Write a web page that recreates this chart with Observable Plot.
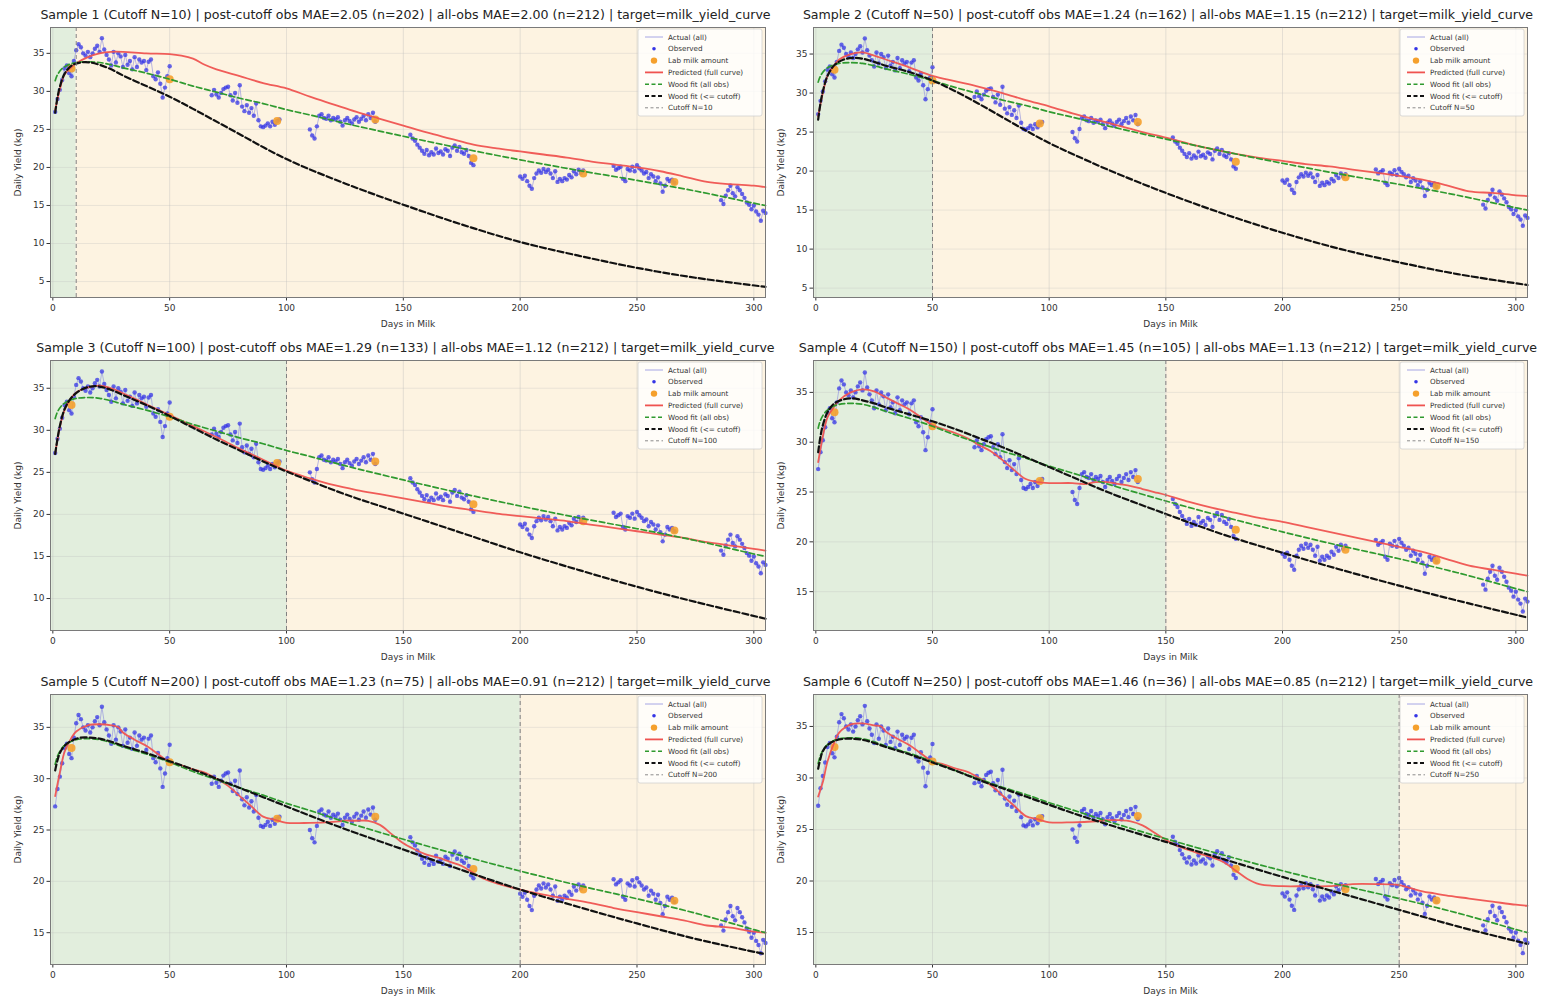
<!DOCTYPE html>
<html><head><meta charset="utf-8">
<script src="https://cdn.jsdelivr.net/npm/d3@7"></script>
<script src="https://cdn.jsdelivr.net/npm/@observablehq/plot@0.6"></script>
<style>
body{margin:0;background:#fff;font-family:"DejaVu Sans",sans-serif;}
#root{position:relative;width:1545px;height:1000px;overflow:hidden;background:#fff;}
.panel{position:absolute;height:333px;}
.title{position:absolute;top:5px;height:20px;width:800px;font-size:12.6px;line-height:20px;text-align:center;white-space:nowrap;color:#222;}
.panel svg{position:absolute;top:26px;left:0;overflow:visible;}
</style></head><body><div id="root"></div><script>
// ---- titles ----
const sampleIds = [1, 2, 3, 4, 5, 6];
const cutoffs = [10, 50, 100, 150, 200, 250];
const postMAE = ["2.05", "1.24", "1.29", "1.45", "1.23", "1.46"];
const postN = [202, 162, 133, 105, 75, 36];
const allMAE = ["2.00", "1.15", "1.12", "1.13", "0.91", "0.85"];
const allN = [212, 212, 212, 212, 212, 212];

// ---- axes ----
const xDomain = [-1, 305];
const xTicks = [0, 50, 100, 150, 200, 250, 300];
const yDomains = [[2.9, 38.4], [3.8, 38.4], [6.2, 38.3], [11.1, 38.2], [11.9, 38.2], [11.9, 38.1]];
const yTickSets = [[5,10,15,20,25,30,35],[5,10,15,20,25,30,35],[10,15,20,25,30,35],[15,20,25,30,35],[15,20,25,30,35],[15,20,25,30,35]];

// ---- observed daily yields (day, kg), clusters ----
const obsA = [[1,27.3],[2,29.0],[3,30.2],[4,31.5],[5,33.0],[6,33.4],[7,32.4],[8,32.0],[9,34.0],[10,35.4],[11,36.2],[12,35.8],[13,35.0],[14,34.7],[15,35.2],[16,34.5],[17,35.0],[18,35.6],[19,36.0],[20,35.2],[21,37.0],[22,35.5],[23,34.8],[24,34.2],[25,33.4],[26,35.2],[27,33.8],[28,35.0],[29,34.6],[30,33.2],[31,34.8],[32,33.5],[33,34.0],[34,32.9],[35,34.5],[36,33.2],[37,34.2],[38,33.8],[39,34.0],[40,32.8],[41,33.9],[42,34.2],[43,32.0],[44,31.6],[45,32.5],[46,31.0],[47,29.2],[48,30.5],[49,32.0],[50,33.3]];
const obsB = [[68,29.5],[69,30.2],[70,29.6],[71,29.2],[72,29.8],[73,30.3],[74,30.5],[75,30.6],[76,29.5],[77,28.8],[78,29.8],[79,28.5],[80,30.8],[81,28.0],[82,27.4],[83,28.2],[84,27.2],[85,27.8],[86,26.8],[87,28.4],[88,26.2],[89,25.4],[90,25.3],[91,25.5],[92,25.8],[93,25.4],[94,26.0],[95,25.6],[96,26.1],[97,26.3]];
const obsC = [[110,25.0],[111,24.2],[112,23.8],[113,25.4],[114,26.8],[115,27.0],[116,26.5],[117,26.4],[118,26.8],[119,26.2],[120,26.5],[121,26.3],[122,26.6],[123,26.0],[124,25.5],[125,26.2],[126,26.5],[127,26.1],[128,25.8],[129,26.3],[130,26.6],[131,26.0],[132,26.4],[133,26.8],[134,26.2],[135,27.0],[136,26.5],[137,27.2],[138,26.0]];
const obsD = [[153,24.3],[154,23.8],[155,23.5],[156,23.0],[157,22.6],[158,22.2],[159,21.8],[160,22.3],[161,21.6],[162,22.0],[163,21.7],[164,22.5],[165,21.9],[166,22.1],[167,21.7],[168,22.4],[169,22.2],[170,21.5],[171,22.6],[172,22.9],[173,22.2],[174,22.7],[175,22.0],[176,21.8],[177,22.3],[178,21.5],[179,20.6],[180,20.3]];
const obsE = [[200,18.8],[201,18.5],[202,18.9],[203,18.2],[204,17.6],[205,17.2],[206,18.6],[207,19.2],[208,19.6],[209,19.3],[210,19.8],[211,19.4],[212,19.7],[213,19.2],[214,18.6],[215,19.5],[216,18.1],[217,18.5],[218,18.2],[219,18.6],[220,18.4],[221,19.0],[222,18.7],[223,19.5],[224,19.1],[225,19.7],[226,19.3],[227,19.6]];
const obsF = [[240,20.2],[241,19.7],[242,19.9],[243,20.1],[244,18.5],[245,18.2],[246,19.8],[247,19.6],[248,20.1],[249,19.5],[250,20.3],[251,19.9],[252,19.6],[253,19.2],[254,19.4],[255,18.6],[256,19.1],[257,18.8],[258,18.2],[259,18.7],[260,17.9],[261,16.8],[262,17.6],[263,18.5],[264,18.2],[265,18.4],[266,18.0]];
const obsG = [[286,15.7],[287,15.2],[288,16.3],[289,17.0],[290,17.6],[291,16.6],[292,16.2],[293,17.4],[294,17.0],[295,16.5],[296,16.0],[297,15.4],[298,15.1],[299,14.5],[300,15.0],[301,14.2],[302,13.8],[303,13.0],[304,14.3],[305,14.0]];

// ---- lab milk amounts ----
const labMilk = [[8,33.0],[50,31.6],[96,26.1],[138,26.3],[180,21.2],[227,19.2],[266,18.1]];

// ---- Wood fit on all observations (same in every panel) ----
const woodAll = [[1,31.4],[2,32.2],[4,33.0],[6,33.4],[8,33.65],[10,33.8],[15,33.9],[20,33.8],[25,33.5],[30,33.1],[40,32.4],[50,31.6],[60,30.7],[70,29.9],[80,29.1],[90,28.4],[100,27.6],[110,26.9],[125,25.8],[150,24.1],[175,22.5],[200,21.0],[225,19.6],[250,18.3],[275,16.9],[300,15.3],[305,15.0]];

// ---- Wood fit on observations up to the cutoff, per sample ----
const woodCut1 = [[1,27.2],[2,29.2],[3,30.6],[5,32.3],[8,33.4],[12,33.8],[16,33.8],[20,33.5],[25,32.9],[30,32.1],[40,30.7],[50,29.3],[60,27.7],[75,25.2],[100,21.1],[125,17.9],[150,15.1],[175,12.5],[200,10.2],[225,8.4],[250,6.8],[275,5.5],[305,4.3]];
const woodCut2 = [[1,26.6],[2,28.7],[3,30.2],[5,32.2],[8,33.6],[12,34.3],[16,34.5],[20,34.4],[25,34.0],[30,33.5],[40,32.7],[50,31.6],[60,30.2],[70,28.6],[80,26.9],[90,25.2],[100,23.6],[110,22.2],[125,20.2],[150,17.2],[175,14.5],[200,12.1],[225,10.0],[250,8.3],[275,6.8],[305,5.4]];
const woodCut3 = [[1,27.2],[2,29.0],[3,30.5],[5,32.5],[8,33.9],[12,34.8],[16,35.2],[20,35.2],[25,34.8],[30,34.2],[40,33.0],[50,31.7],[60,30.3],[70,28.9],[80,27.6],[90,26.3],[100,25.1],[110,24.0],[125,22.4],[150,20.1],[175,17.8],[200,15.5],[225,13.4],[250,11.4],[275,9.6],[305,7.6]];
const woodCut4 = [[1,29.0],[2,30.6],[3,31.7],[5,33.0],[8,33.9],[12,34.3],[16,34.4],[20,34.2],[25,33.9],[30,33.5],[40,32.8],[50,32.1],[60,31.3],[70,30.4],[80,29.5],[90,28.5],[100,27.5],[110,26.5],[125,25.0],[150,22.8],[175,20.7],[200,18.9],[225,17.2],[250,15.6],[275,14.1],[305,12.4]];
const woodCut5 = [[1,30.8],[2,31.8],[3,32.5],[5,33.2],[8,33.7],[12,34.0],[16,34.0],[20,33.9],[25,33.6],[30,33.2],[40,32.5],[50,31.7],[60,30.9],[70,30.0],[80,29.1],[90,28.2],[100,27.3],[110,26.4],[125,25.1],[150,23.1],[175,21.1],[200,19.2],[225,17.5],[250,15.9],[275,14.4],[305,12.9]];
const woodCut6 = [[1,30.9],[2,31.9],[3,32.6],[5,33.2],[8,33.6],[12,33.8],[16,33.8],[20,33.7],[25,33.4],[30,33.0],[40,32.3],[50,31.5],[60,30.7],[70,29.8],[80,29.0],[90,28.2],[100,27.4],[110,26.6],[125,25.5],[150,23.8],[175,22.1],[200,20.4],[225,18.8],[250,17.2],[275,15.6],[305,13.9]];

// ---- model predictions (full curve), per sample ----
const pred1 = [[1,27.5],[3,30.3],[5,32.2],[8,33.2],[10,33.7],[15,34.5],[20,35.0],[25,35.2],[30,35.2],[40,35.0],[50,34.9],[55,34.7],[60,34.3],[65,33.5],[70,32.9],[80,32.0],[90,31.1],[100,30.4],[110,29.3],[120,28.3],[130,27.3],[140,26.4],[150,25.5],[160,24.6],[170,23.8],[180,23.0],[190,22.5],[200,22.1],[210,21.7],[220,21.3],[230,20.8],[240,20.4],[250,20.0],[260,19.5],[270,18.8],[280,18.1],[290,17.8],[300,17.6],[305,17.4]];
const pred2 = [[1,27.0],[3,30.0],[5,32.2],[8,33.6],[10,34.3],[15,35.0],[20,35.2],[25,34.8],[30,34.3],[40,33.3],[50,32.2],[60,31.5],[70,30.8],[80,30.0],[90,29.1],[100,28.3],[110,27.4],[120,26.6],[130,25.8],[140,25.0],[150,24.3],[160,23.5],[170,22.8],[180,22.2],[190,21.7],[200,21.3],[210,20.9],[220,20.6],[230,20.2],[240,19.8],[250,19.4],[260,18.9],[270,18.2],[280,17.4],[290,17.2],[300,16.9],[305,16.8]];
const pred3 = [[1,27.2],[3,30.4],[5,32.4],[8,33.9],[10,34.5],[15,35.1],[20,35.3],[25,35.0],[30,34.4],[40,33.1],[50,31.8],[60,30.5],[70,29.2],[80,27.8],[90,26.5],[100,25.2],[110,24.3],[120,23.5],[130,22.9],[140,22.4],[150,21.9],[160,21.4],[170,20.9],[180,20.5],[190,20.1],[200,19.8],[210,19.5],[220,19.2],[230,18.8],[240,18.4],[250,18.0],[260,17.6],[270,17.2],[280,16.7],[290,16.3],[300,15.9],[305,15.7]];
const pred4 = [[1,28.0],[3,30.6],[5,32.5],[8,33.6],[10,34.2],[15,35.0],[20,35.3],[25,35.1],[30,34.5],[35,33.9],[40,33.3],[45,32.5],[50,31.7],[55,31.3],[60,30.9],[65,30.4],[70,29.7],[75,29.1],[80,28.2],[85,27.2],[90,26.3],[95,26.0],[100,25.9],[110,25.9],[115,25.8],[120,26.0],[125,26.0],[130,25.8],[135,25.6],[140,25.3],[145,25.0],[150,24.7],[160,24.0],[170,23.4],[180,22.9],[190,22.4],[200,22.0],[210,21.5],[220,21.0],[230,20.5],[240,20.0],[250,19.5],[260,19.0],[270,18.3],[280,17.6],[290,17.2],[300,16.8],[305,16.6]];
const pred5 = [[1,28.3],[3,30.6],[5,32.6],[8,34.0],[10,34.6],[15,35.2],[20,35.3],[25,35.2],[28,35.0],[30,34.5],[35,33.8],[40,33.2],[45,32.4],[50,31.6],[55,31.3],[60,30.9],[65,30.6],[70,30.0],[75,29.3],[80,28.3],[85,27.3],[90,26.3],[95,26.0],[100,25.7],[110,25.7],[120,25.8],[125,25.9],[130,25.9],[135,25.9],[140,25.5],[145,24.6],[150,23.7],[155,23.1],[160,22.6],[165,22.3],[170,21.9],[175,21.5],[180,20.8],[185,20.2],[190,19.8],[200,19.2],[210,18.7],[220,18.3],[230,17.9],[240,17.4],[250,17.0],[260,16.6],[270,16.2],[280,15.7],[290,15.5],[300,15.1],[305,15.0]];
const pred6 = [[1,28.2],[3,29.6],[5,31.6],[8,33.5],[10,34.4],[15,35.2],[20,35.3],[25,35.1],[28,35.0],[30,34.5],[35,33.8],[40,33.2],[45,32.4],[50,31.6],[55,31.3],[60,30.9],[65,30.6],[70,30.0],[75,29.3],[80,28.3],[85,27.3],[90,26.3],[95,26.0],[100,25.7],[110,25.7],[120,25.8],[125,25.9],[130,25.9],[135,25.8],[140,25.4],[145,24.7],[150,24.0],[155,23.4],[160,23.0],[165,22.6],[170,22.3],[175,21.8],[180,21.0],[185,20.2],[190,19.7],[200,19.5],[210,19.5],[220,19.5],[230,19.7],[240,19.7],[250,19.6],[255,19.3],[260,19.0],[265,18.8],[270,18.6],[280,18.3],[290,18.0],[300,17.7],[305,17.6]];

const woodCuts = [woodCut1, woodCut2, woodCut3, woodCut4, woodCut5, woodCut6];
const preds = [pred1, pred2, pred3, pred4, pred5, pred6];

// ---- colours ----
const C = {
  pre: "#e2eedd", post: "#fdf3e1", grid: "#b8b8b8", obs: "#3535e6", actual: "#8f8fe0",
  lab: "#f5a02c", pred: "#ef5350", woodAll: "#2f9a2f", woodCut: "#111111", cutoff: "#808080", frame: "#7a7a7a"
};

const obsClusters = [obsA, obsB, obsC, obsD, obsE, obsF, obsG];
const obs = obsClusters.flatMap((cl, k) => cl.map(([d, v]) => ({day: d, val: v, cluster: k})));
const lab = labMilk.map(([d, v]) => ({day: d, val: v}));
const toRows = arr => arr.map(([d, v]) => ({day: d, val: v}));

const root = document.getElementById("root");
const rowTops = [0, 333, 667];
const colLeft = [0, 772], colWidth = [772, 773], colML = [50, 41], colMR = [7, 18];

sampleIds.forEach((sid, i) => {
  const col = i % 2, row = Math.floor(i / 2);
  const W = colWidth[col], mL = colML[col], mR = colMR[col];
  const cutoff = cutoffs[i];
  const panel = document.createElement("div");
  panel.className = "panel";
  panel.style.left = colLeft[col] + "px";
  panel.style.top = rowTops[row] + "px";
  panel.style.width = W + "px";
  const t = document.createElement("div");
  t.className = "title";
  const center = mL + (W - mL - mR) / 2 - 2;
  t.style.left = (center - 400) + "px";
  t.textContent = `Sample ${sid} (Cutoff N=${cutoff}) | post-cutoff obs MAE=${postMAE[i]} (n=${postN[i]}) | all-obs MAE=${allMAE[i]} (n=${allN[i]}) | target=milk_yield_curve`;
  panel.appendChild(t);

  const H = 307, mT = 1, mB = 36;
  const svg = Plot.plot({
    width: W, height: H,
    marginLeft: mL, marginRight: mR, marginTop: mT, marginBottom: mB,
    style: {fontFamily: "DejaVu Sans, sans-serif", fontSize: "9px", color: "#333", background: "transparent"},
    x: {domain: xDomain, ticks: xTicks, label: "Days in Milk", labelAnchor: "center", labelOffset: 29, labelArrow: "none", tickSize: 3.5, tickPadding: 4, tickFormat: d3.format("d")},
    y: {domain: yDomains[i], ticks: yTickSets[i], label: "Daily Yield (kg)", labelAnchor: "center", labelOffset: 36, labelArrow: "none", tickSize: 3.5, tickPadding: 2.5, tickFormat: d3.format("d")},
    marks: [
      Plot.rect([{a: xDomain[0], b: cutoff}], {x1: "a", x2: "b", fill: C.pre}),
      Plot.rect([{a: cutoff, b: xDomain[1]}], {x1: "a", x2: "b", fill: C.post}),
      Plot.gridX(xTicks, {stroke: C.grid, strokeOpacity: 0.45, strokeWidth: 0.8}),
      Plot.gridY(yTickSets[i], {stroke: C.grid, strokeOpacity: 0.35, strokeWidth: 0.8}),
      Plot.line(obs, {x: "day", y: "val", z: "cluster", stroke: C.actual, strokeWidth: 0.8, strokeOpacity: 0.8}),
      Plot.dot(obs, {x: "day", y: "val", r: 2.2, fill: C.obs, fillOpacity: 0.75, stroke: "none"}),
      Plot.dot(lab, {x: "day", y: "val", r: 4, fill: C.lab, fillOpacity: 0.9, stroke: "none"}),
      Plot.line(toRows(preds[i]), {x: "day", y: "val", stroke: C.pred, strokeWidth: 1.8, curve: "catmull-rom", strokeOpacity: 0.95}),
      Plot.line(toRows(woodAll), {x: "day", y: "val", stroke: C.woodAll, strokeWidth: 1.7, strokeDasharray: "5.5,3", curve: "catmull-rom"}),
      Plot.line(toRows(woodCuts[i]), {x: "day", y: "val", stroke: C.woodCut, strokeWidth: 2.2, strokeDasharray: "6,3", curve: "catmull-rom"}),
      Plot.ruleX([cutoff], {stroke: C.cutoff, strokeWidth: 1, strokeDasharray: "4,3"}),
      Plot.frame({stroke: C.frame, strokeWidth: 1})
    ]
  });
  panel.appendChild(svg);

  // legend (upper right)
  const lw = 124, lh = 87;
  const g = d3.select(svg).append("g").attr("transform", `translate(${W - mR - lw - 3},${mT + 2})`)
    .attr("text-anchor", "start");
  g.append("rect").attr("width", lw).attr("height", lh).attr("rx", 2)
    .attr("fill", "#fff").attr("fill-opacity", 0.8).attr("stroke", "#d0d0d0").attr("stroke-width", 0.8);
  const items = [
    {label: "Actual (all)", type: "line", color: C.actual, w: 0.8},
    {label: "Observed", type: "dot", color: C.obs, r: 1.8},
    {label: "Lab milk amount", type: "dot", color: C.lab, r: 3.2},
    {label: "Predicted (full curve)", type: "line", color: C.pred, w: 1.8},
    {label: "Wood fit (all obs)", type: "line", color: C.woodAll, w: 1.6, dash: "4,2.5"},
    {label: "Wood fit (<= cutoff)", type: "line", color: C.woodCut, w: 2.1, dash: "4,2.5"},
    {label: `Cutoff N=${cutoff}`, type: "line", color: C.cutoff, w: 0.9, dash: "3,2.5"}
  ];
  items.forEach((it, k) => {
    const y = 8 + k * 11.8;
    if (it.type === "line") {
      g.append("line").attr("x1", 7).attr("x2", 25).attr("y1", y).attr("y2", y)
        .attr("stroke", it.color).attr("stroke-width", it.w).attr("stroke-dasharray", it.dash || null);
    } else {
      g.append("circle").attr("cx", 16).attr("cy", y).attr("r", it.r).attr("fill", it.color);
    }
    g.append("text").attr("x", 30).attr("y", y).attr("dy", "0.35em").attr("text-anchor", "start")
      .attr("font-size", 7.2).attr("fill", "#333").text(it.label);
  });

  root.appendChild(panel);
});
</script></body></html>
